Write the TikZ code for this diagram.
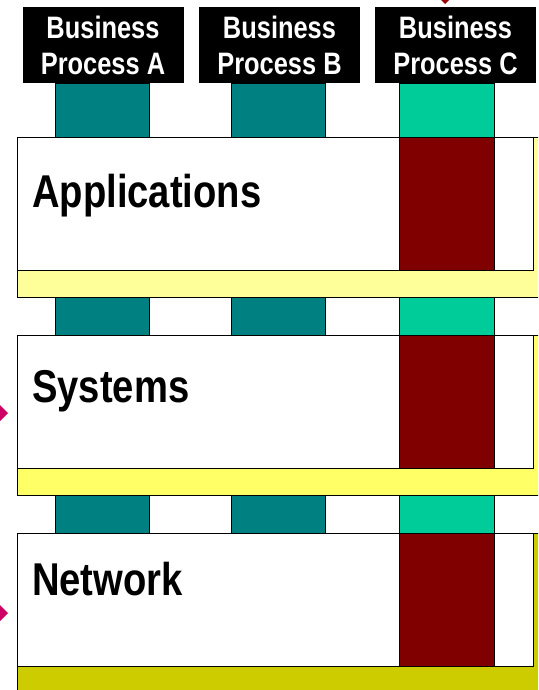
\documentclass[tikz,border=0pt]{standalone}
\usepackage{fontspec}
\setmainfont{Liberation Sans}
\newfontfamily\narrowsf[FakeStretch=0.82]{Liberation Sans}
\newfontfamily\layersf[FakeStretch=0.83]{Liberation Sans}
\definecolor{bpteal}{HTML}{008080}
\definecolor{bpgreen}{HTML}{00CC99}
\definecolor{apred}{HTML}{800000}
\definecolor{paleyellow}{HTML}{FFFF99}
\definecolor{sysyellow}{HTML}{FFFF66}
\definecolor{netolive}{HTML}{CCCC00}
\definecolor{markpink}{HTML}{CC0066}
\definecolor{tipred}{HTML}{990000}
\tikzset{
  procbox/.style={fill=black, text=white, align=center, inner sep=0pt,
    minimum width=161, minimum height=76,
    font=\narrowsf\bfseries\fontsize{31}{36}\selectfont},
  layerlabel/.style={anchor=base west, inner sep=0pt,
    font=\layersf\bfseries\fontsize{46}{50}\selectfont},
  col/.style={draw=black, line width=0.9pt}
}
\begin{document}
\begin{tikzpicture}[x=1pt,y=-1pt]
    \useasboundingbox (0,0) rectangle (538,690);
    \clip (0,0) rectangle (538,690);
    % process headers
    \node[procbox] (procA) at (103,45) {Business\\Process A};
    \node[procbox] (procB) at (279.5,45) {Business\\Process B};
    \node[procbox] (procC) at (455.5,45) {Business\\Process C};
    % tip over process C
    \fill[tipred] (441,0) -- (449,0) -- (445,4) -- cycle;
    % columns between the layers
    \foreach \ya/\yb in {83/137, 297/335, 495/533} {
      \draw[col, fill=bpteal] (55,\ya) rectangle (149,\yb);
      \draw[col, fill=bpteal] (231,\ya) rectangle (325,\yb);
      \draw[col, fill=bpgreen] (399,\ya) rectangle (494,\yb);
    }
    % layers
    \foreach \ya/\yl/\shade/\lbl in {137/207/paleyellow/Applications,
        335/402/sysyellow/Systems, 533/595/netolive/Network} {
      \draw[col, fill=\shade] (17,\ya) rectangle (545,\ya+160);
      \draw[col, fill=white] (17,\ya) rectangle (533,\ya+133);
      \draw[col, fill=apred] (399,\ya) rectangle (494,\ya+133);
      \node[layerlabel] (\lbl) at (32,\yl) {\lbl};
    }
    % markers on the left edge
    \fill[markpink] (-11,413) -- (-2,403) -- (8,413) -- (-2,423) -- cycle;
    \fill[markpink] (-11,613) -- (-2,603) -- (8,613) -- (-2,623) -- cycle;
\end{tikzpicture}
\end{document}
